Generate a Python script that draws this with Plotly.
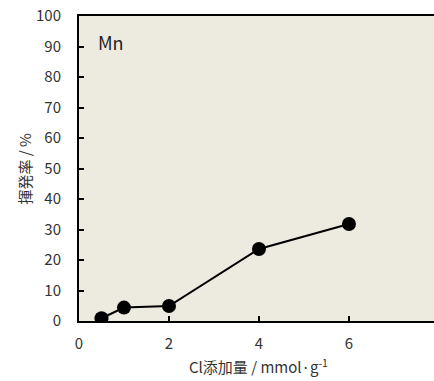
import plotly.graph_objects as go

x_vals = [0.5, 1, 2, 4, 6]
y_vals = [0.9, 4.4, 4.9, 23.6, 31.8]
x_ticks = [0, 2, 4, 6, 8]
y_ticks = [0, 10, 20, 30, 40, 50, 60, 70, 80, 90, 100]

font_family = "Noto Sans CJK JP, Noto Sans, sans-serif"
W, H = 434, 381
L, R, T, B = 79, 0, 16, 60
pw = W - L - R
ph = H - T - B

fig = go.Figure()
fig.add_trace(go.Scatter(
    x=x_vals, y=y_vals, mode="lines+markers",
    line=dict(color="black", width=2),
    marker=dict(color="black", size=14),
    showlegend=False,
))

fig.update_layout(
    width=W, height=H,
    margin=dict(l=L, r=R, t=T, b=B, autoexpand=False),
    paper_bgcolor="white",
    plot_bgcolor="#EDEAE0",
    font=dict(family=font_family, size=15, color="#333333"),
    xaxis=dict(
        range=[0, 7.89], tickvals=x_ticks, ticks="inside", ticklen=5,
        tickwidth=1.5, tickcolor="black",
        showline=True, linecolor="black", linewidth=2, mirror=True,
        showgrid=False, zeroline=False, tickfont=dict(size=15),
        automargin=False, ticklabelstandoff=8,
    ),
    yaxis=dict(
        range=[0, 100], tickvals=y_ticks, ticks="inside", ticklen=5,
        tickwidth=1.5, tickcolor="black",
        showline=True, linecolor="black", linewidth=2,
        showgrid=False, zeroline=False, tickfont=dict(size=15),
        ticklabelstandoff=13, automargin=False,
    ),
    annotations=[
        dict(text="Mn", x=(96 - L) / pw, y=(321 - 42) / ph, xref="paper", yref="paper",
             xanchor="left", yanchor="middle", showarrow=False,
             font=dict(size=18, color="#222222")),
        dict(text="Cl添加量 / mmol·g<sup>-1</sup>", x=(258 - L) / pw, y=-(366 - 321) / ph,
             xref="paper", yref="paper", xanchor="center", yanchor="middle",
             showarrow=False, font=dict(size=15, color="#333333")),
        dict(text="揮発率 / %", x=-(L - 24) / pw, y=0.5, xref="paper", yref="paper",
             xanchor="center", yanchor="middle", textangle=-90,
             showarrow=False, font=dict(size=15, color="#333333")),
    ],
)

fig.write_html("out.html", config={"displayModeBar": False},
               post_script="document.body.style.margin='0';")
